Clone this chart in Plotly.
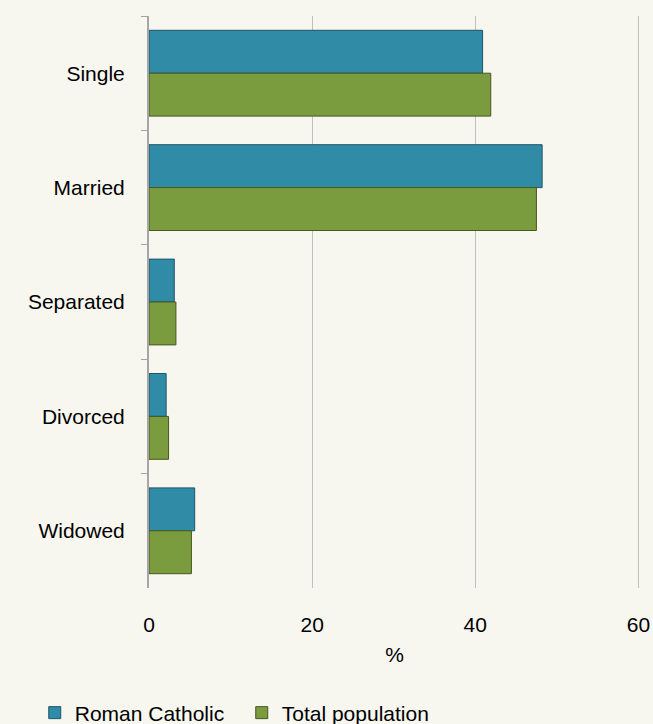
import plotly.graph_objects as go

categories = ["Single", "Married", "Separated", "Divorced", "Widowed"]
roman_catholic = [40.9, 48.2, 3.1, 2.1, 5.6]
total_population = [41.9, 47.5, 3.3, 2.4, 5.2]
x_ticks = [0, 20, 40, 60]

fig = go.Figure()
fig.add_trace(go.Bar(
    y=categories, x=roman_catholic, orientation="h", name="Roman Catholic",
    marker=dict(color="#308BA7", line=dict(color="#1E5567", width=1)),
))
fig.add_trace(go.Bar(
    y=categories, x=total_population, orientation="h", name="Total population",
    marker=dict(color="#7B9B3F", line=dict(color="#46581F", width=1)),
))

bg = "#F7F7F0"
fig.update_layout(
    width=653, height=724,
    paper_bgcolor=bg, plot_bgcolor=bg,
    margin=dict(l=149, r=13, t=16, b=136, autoexpand=False),
    barmode="group", bargap=0.25, bargroupgap=0,
    font=dict(family="Liberation Sans, Arial, sans-serif", size=21, color="#000000"),
    showlegend=True,
    legend=dict(orientation="h", x=-0.2327, xanchor="left", y=-0.2185, yanchor="middle",
                font=dict(size=21), bgcolor="rgba(0,0,0,0)", entrywidth=162,
                traceorder="normal"),
)
fig.update_xaxes(
    range=[0, 60.2], tickvals=x_ticks, ticktext=[str(v) for v in x_ticks],
    showgrid=True, gridcolor="#C0C0C0", gridwidth=1,
    zeroline=False, showline=False, ticks="", ticklabelstandoff=22,
    title=dict(text="%", standoff=12, font=dict(size=21)),
    tickfont=dict(size=21),
)
fig.update_yaxes(
    categoryorder="array", categoryarray=categories, autorange="reversed",
    showline=True, linecolor="#A6A6A6", linewidth=2, mirror=False,
    ticks="outside", tickson="boundaries", ticklen=6, tickcolor="#A6A6A6",
    showgrid=False, tickfont=dict(size=21), ticklabelstandoff=18,
)

fig.write_html(
    "out.html",
    config={"displayModeBar": False},
    post_script="document.body.style.margin='0';document.body.style.overflow='hidden';",
)
